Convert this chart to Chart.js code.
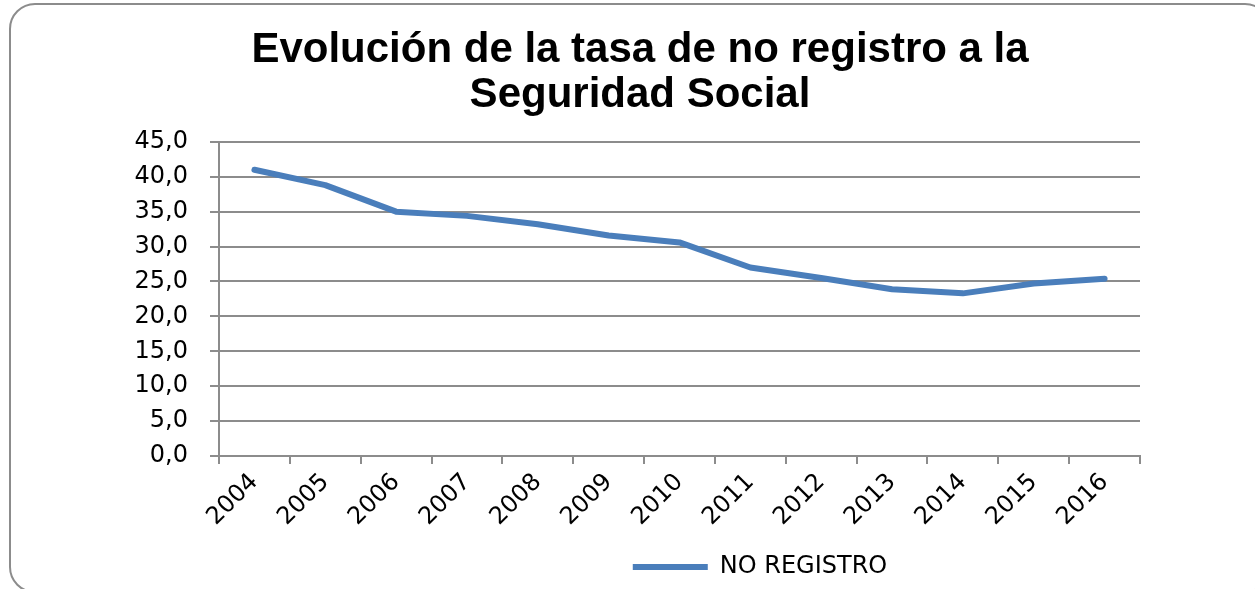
<!DOCTYPE html>
<html>
<head>
<meta charset="utf-8">
<script src="https://cdn.jsdelivr.net/npm/chart.js@4/dist/chart.umd.min.js"></script>
<style>
	html, body { margin:0; padding:0; background:#fff; overflow:hidden; width:1255px; height:589px; }
	#wrap { position:absolute; left:9px; top:3px; width:1262px; height:590px; border:2px solid #8c8c8c; border-radius:26px; box-sizing:border-box; background:#fff; }
	#cv { position:absolute; left:0; top:0; }
</style>
</head>
<body>
<div id="wrap"><canvas id="cv" width="1258" height="579"></canvas></div>
<script>
// datos
var years=['2004','2005','2006','2007','2008','2009','2010','2011','2012','2013','2014','2015','2016'];
var noRegistro=[41.0, 38.8, 35.0, 34.4, 33.2, 31.6, 30.6, 27.0, 25.5, 23.9, 23.3, 24.7, 25.4];
var seriesName='NO REGISTRO';
var titleLines=['Evolución de la tasa de no registro a la','Seguridad Social'];
var yMin=0, yMax=45, yStep=5;

function fmt(v){
	return Number(v).toFixed(1).replace('.', ',');
}

// the legend in the original sits right of centre, move it a bit
var legendShift={
	id:'legendShift',
	afterLayout:function(chart){
		var lg=chart.legend;
		if(!lg) return;
		lg.left+=120; lg.right+=120;
		lg.top+=5; lg.bottom+=5;
	}
};

function draw(){
	var ctx=document.getElementById('cv');
	var gray='#8c8c8c';
	var data={
		labels:years,
		datasets:[{
			label:seriesName,
			data:noRegistro,
			borderColor:'#4a7ebb',
			backgroundColor:'#4a7ebb',
			borderWidth:6,
			borderCapStyle:'round',
			borderJoinStyle:'round',
			pointRadius:0,
			tension:0,
			fill:false
		}]
	};
	var options={
		responsive:false,
		animation:false,
		layout:{ padding:0 },
		plugins:{
			title:{
				display:true,
				text:titleLines,
				color:'#000',
				font:{ family:'Liberation Sans', size:42, weight:'bold', lineHeight:1.07 },
				padding:{ top:23, bottom:24 }
			},
			legend:{
				display:true,
				position:'bottom',
				labels:{
					color:'#000',
					font:{ family:'DejaVu Sans', size:24 },
					usePointStyle:true,
					pointStyle:'line',
					pointStyleWidth:75,
					boxHeight:24,
					padding:6
				}
			},
			tooltip:{ enabled:false }
		},
		scales:{
			x:{
				offset:true,
				grid:{ offset:true, drawOnChartArea:false, drawTicks:true, tickLength:8, color:gray, lineWidth:2 },
				border:{ display:true, color:gray, width:2 },
				ticks:{
					color:'#000',
					font:{ family:'DejaVu Sans', size:24 },
					maxRotation:45, minRotation:45,
					autoSkip:false,
					padding:4
				},
				afterFit:function(s){ s.height=88; }
			},
			y:{
				min:yMin, max:yMax,
				grid:{ color:gray, lineWidth:2, tickLength:9, drawTicks:true },
				border:{ display:true, color:gray, width:2 },
				ticks:{
					stepSize:yStep,
					color:'#000',
					font:{ family:'DejaVu Sans', size:24 },
					padding:22,
					callback:function(v){ return fmt(v); }
				},
				afterFit:function(s){ s.width=208; }
			},
			// empty axis on the right, only keeps the plot narrower
			yRight:{
				position:'right',
				min:yMin, max:yMax,
				grid:{ display:false },
				border:{ display:false },
				ticks:{ display:false },
				afterFit:function(s){ s.width=129; }
			}
		}
	};
	new Chart(ctx, { type:'line', data:data, options:options, plugins:[legendShift] });
}
draw();
</script>
</body>
</html>
